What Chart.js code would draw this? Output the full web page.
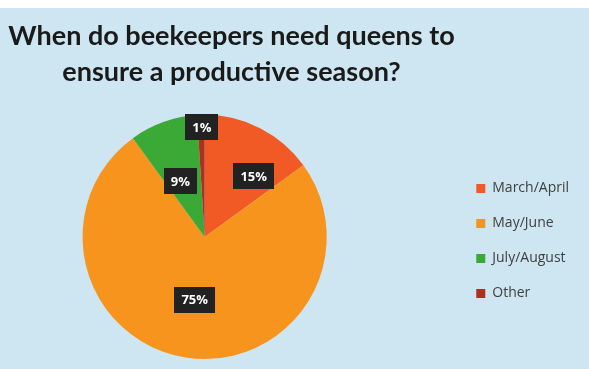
<!DOCTYPE html>
<html>
<head>
<meta charset="utf-8">
<script src="https://cdn.jsdelivr.net/npm/chart.js@4.4.1/dist/chart.umd.min.js"></script>
<style>
  html, body { margin: 0; padding: 0; background: #ffffff; }
  #wrap { width: 589px; height: 369px; position: relative; }
</style>
</head>
<body>
<div id="wrap"><canvas id="c" width="589" height="369"></canvas></div>
<script>
// ---- data ----
const titleLines = ['When do beekeepers need queens to', 'ensure a productive season?'];
const categories = ['March/April', 'May/June', 'July/August', 'Other'];
const percentValues = [15, 75, 9, 1];
const sliceColors = ['#f15a24', '#f7941d', '#3aa935', '#b0301f'];

// label placement inside each slice: fraction along the slice's angle span, fraction of radius
const labelAngleFrac = [0.72, 0.5, 0.39, 0.6];
const labelRadiusFrac = [0.64, 0.52, 0.5, 0.9];

const pieShift = -23;   // horizontal shift of plot area (px)
const titleShift = -58; // horizontal shift of title block (px)
const legendShiftY = 4; // vertical offset of legend block (px)

const bgPlugin = {
  id: 'bg',
  beforeDraw(chart) {
    const ctx = chart.ctx;
    ctx.save();
    ctx.fillStyle = '#ffffff';
    ctx.fillRect(0, 0, chart.width, chart.height);
    ctx.fillStyle = '#cde6f1';
    ctx.fillRect(0, 8, chart.width, chart.height - 8);
    ctx.restore();
  }
};

const shiftPlugin = {
  id: 'shift',
  afterLayout(chart) {
    const ca = chart.chartArea;
    const lg = chart.legend;
    lg.top = ca.top + legendShiftY;
    lg.bottom = ca.bottom + legendShiftY;
    lg.height = lg.bottom - lg.top;
    ca.left += pieShift;
    ca.right += pieShift;
    const tb = chart.titleBlock;
    tb.left += titleShift;
    tb.right += titleShift;
  }
};

const labelPlugin = {
  id: 'boxLabels',
  afterDatasetsDraw(chart) {
    const ctx = chart.ctx;
    const meta = chart.getDatasetMeta(0);
    ctx.save();
    ctx.font = 'bold 13px "Open Sans", sans-serif';
    ctx.textAlign = 'center';
    ctx.textBaseline = 'middle';
    meta.data.forEach((arc, i) => {
      const p = arc.getProps(['x', 'y', 'startAngle', 'endAngle', 'outerRadius'], true);
      const a = p.startAngle + (p.endAngle - p.startAngle) * labelAngleFrac[i];
      const r = p.outerRadius * labelRadiusFrac[i];
      const x = p.x + Math.cos(a) * r;
      const y = p.y + Math.sin(a) * r;
      const txt = percentValues[i] + '%';
      const w = ctx.measureText(txt).width + 14;
      const h = 26;
      ctx.fillStyle = '#222222';
      ctx.fillRect(Math.round(x - w / 2), Math.round(y - h / 2), Math.round(w), h);
      ctx.fillStyle = '#ffffff';
      ctx.fillText(txt, x, y + 1);
    });
    ctx.restore();
  }
};

new Chart(document.getElementById('c'), {
  type: 'pie',
  data: {
    labels: categories,
    datasets: [{
      data: percentValues,
      backgroundColor: sliceColors,
      borderWidth: 0
    }]
  },
  plugins: [bgPlugin, shiftPlugin, labelPlugin],
  options: {
    responsive: false,
    animation: false,
    layout: { padding: { top: 0, bottom: 10, left: 0, right: 10 } },
    plugins: {
      title: {
        display: true,
        text: titleLines,
        color: '#1a1a1a',
        font: { family: 'Lato, "Open Sans", sans-serif', size: 27, weight: 'bold', lineHeight: 1.33 },
        padding: { top: 18, bottom: 25 }
      },
      legend: {
        position: 'right',
        align: 'center',
        labels: {
          boxWidth: 9,
          boxHeight: 9,
          padding: 21,
          color: '#404040',
          font: { family: '"Open Sans", sans-serif', size: 14 }
        }
      },
      tooltip: { enabled: false }
    }
  }
});
</script>
</body>
</html>
